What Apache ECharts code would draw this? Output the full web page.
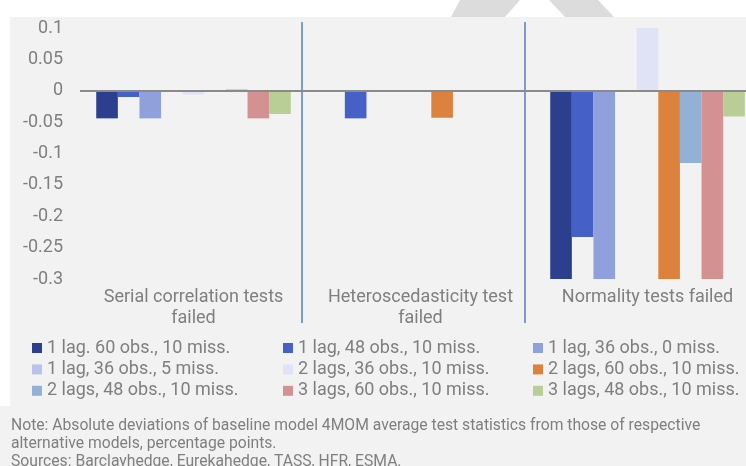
<!DOCTYPE html>
<html>
<head>
<meta charset="utf-8">
<script src="https://cdn.jsdelivr.net/npm/echarts@6/dist/echarts.min.js"></script>
<style>
  html, body { margin: 0; padding: 0; background: #ffffff; }
  #chart { width: 746px; height: 466px; }
</style>
</head>
<body>
<div id="chart"></div>
<script>
// ---- data ----
const categories = ['Serial correlation tests\nfailed', 'Heteroscedasticity test\nfailed', 'Normality tests failed'];
const seriesNames = [
  '1 lag. 60 obs., 10 miss.',
  '1 lag, 48 obs., 10 miss.',
  '1 lag, 36 obs., 0 miss.',
  '1 lag, 36 obs., 5 miss.',
  '2 lags, 36 obs., 10 miss.',
  '2 lags, 60 obs., 10 miss.',
  '2 lags, 48 obs., 10 miss.',
  '3 lags, 60 obs., 10 miss.',
  '3 lags, 48 obs., 10 miss.'
];
const lag1obs60miss10 = [-0.044, 0, -0.3];
const lag1obs48miss10 = [-0.010, -0.044, -0.233];
const lag1obs36miss0  = [-0.044, 0, -0.3];
const lag1obs36miss5  = [0, 0, 0];
const lag2obs36miss10 = [-0.006, 0, 0.1];
const lag2obs60miss10 = [0, -0.043, -0.3];
const lag2obs48miss10 = [0.002, -0.002, -0.115];
const lag3obs60miss10 = [-0.044, 0, -0.3];
const lag3obs48miss10 = [-0.037, 0, -0.041];
const seriesValues = [lag1obs60miss10, lag1obs48miss10, lag1obs36miss0, lag1obs36miss5,
  lag2obs36miss10, lag2obs60miss10, lag2obs48miss10, lag3obs60miss10, lag3obs48miss10];
const yTicks = { min: -0.3, max: 0.1, step: 0.05 };
const noteLines = [
  'Note: Absolute deviations of baseline model 4MOM average test statistics from those of respective',
  'alternative models, percentage points.',
  'Sources: Barclayhedge, Eurekahedge, TASS, HFR, ESMA.'
];

// ---- styles ----
const colors = ['#2c3e8e', '#4560c6', '#8fa0dd', '#b9c2ec', '#dfe3f5', '#dd823d', '#93b1d7', '#d49191', '#b8ce96'];
const FONT = 'Roboto, "Liberation Sans", Arial, sans-serif';
const TXT = '#7f7f7f';

const chart = echarts.init(document.getElementById('chart'), null, { renderer: 'canvas' });

const series = seriesNames.map((name, i) => ({
  name,
  type: 'bar',
  xAxisIndex: 0,
  yAxisIndex: 0,
  data: seriesValues[i],
  barGap: '0%',
  barCategoryGap: '14.3%',
  itemStyle: { color: colors[i] },
  emphasis: { disabled: true },
  markLine: i === 0 ? {
    silent: true,
    symbol: ['none', 'none'],
    label: { show: false },
    lineStyle: { color: '#8a8a8a', width: 2, type: 'solid' },
    data: [{ yAxis: 0 }],
    z: 10
  } : undefined
}));

// legends in 3 columns, row-major ordering
const legendCols = [0, 1, 2].map(c => ({
  orient: 'vertical',
  left: [27, 278, 528][c],
  top: 334,
  itemWidth: 10,
  itemHeight: 10,
  itemGap: 3.4,
  icon: 'rect',
  selectedMode: false,
  data: [c, c + 3, c + 6].map(k => seriesNames[k]),
  textStyle: { color: TXT, fontSize: 18, fontFamily: FONT, lineHeight: 18 }
}));

const option = {
  animation: false,
  backgroundColor: '#ffffff',
  graphic: [
    { type: 'rect', z: -10, shape: { x: 10, y: 17, width: 736, height: 390 }, style: { fill: '#f2f2f2' } },
    { type: 'rect', z: -10, shape: { x: 0, y: 406, width: 746, height: 60 }, style: { fill: '#f2f2f2' } },
    { type: 'polygon', z: -10, shape: { points: [[460, 0], [520, 0], [505, 17], [451, 17]] }, style: { fill: '#dcdcdc' } },
    { type: 'polygon', z: -10, shape: { points: [[549, 0], [598, 0], [614, 17], [565, 17]] }, style: { fill: '#dcdcdc' } },
    {
      type: 'text', left: 11, top: 417,
      style: { text: noteLines.join('\n'), fill: TXT, font: '15.7px ' + FONT, lineHeight: 18 }
    }
  ],
  legend: legendCols,
  grid: [
    { left: 80, width: 681, top: 28, bottom: 187, containLabel: false, outerBoundsMode: 'none' },
    { left: 79, width: 669, top: 22, bottom: 143, containLabel: false, outerBoundsMode: 'none' }
  ],
  xAxis: [
    {
      type: 'category', gridIndex: 0, data: categories,
      axisLine: { show: false }, axisTick: { show: false },
      axisLabel: { color: TXT, fontSize: 18, fontFamily: FONT, lineHeight: 21, margin: 8, interval: 0 },
      splitLine: { show: false }
    },
    {
      type: 'category', gridIndex: 1, data: categories,
      axisLine: { show: false }, axisTick: { show: false }, axisLabel: { show: false },
      splitLine: { show: true, showMinLine: false, showMaxLine: false, lineStyle: { color: '#4f81bd', width: 1.5 } }
    }
  ],
  yAxis: [
    {
      type: 'value', gridIndex: 0, min: yTicks.min, max: yTicks.max, interval: yTicks.step,
      axisLine: { show: false }, axisTick: { show: false }, splitLine: { show: false },
      axisLabel: { color: TXT, fontSize: 18, fontFamily: FONT, margin: 17,
        formatter: v => String(Math.round(v * 100) / 100) }
    },
    { type: 'value', gridIndex: 1, show: false, min: 0, max: 1 }
  ],
  series
};

chart.setOption(option);
</script>
</body>
</html>
